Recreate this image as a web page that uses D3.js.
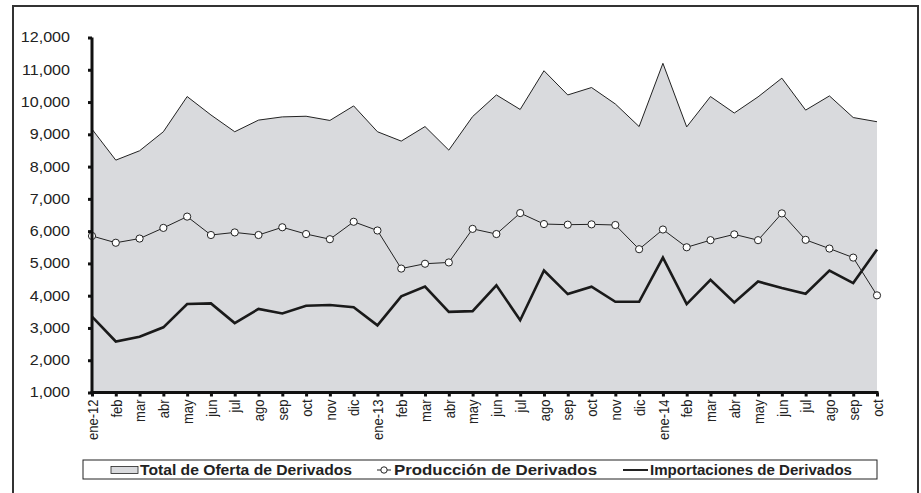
<!DOCTYPE html>
<html><head><meta charset="utf-8">
<script src="https://cdn.jsdelivr.net/npm/d3@7"></script>
<style>body{margin:0;background:#fff;} svg{display:block;font-family:"Liberation Sans",Arial,sans-serif;}</style>
</head><body>
<svg id="c" width="921" height="493"></svg>
<script>
const categories = ["ene-12","feb","mar","abr","may","jun","jul","ago","sep","oct","nov","dic",
  "ene-13","feb","mar","abr","may","jun","jul","ago","sep","oct","nov","dic",
  "ene-14","feb","mar","abr","may","jun","jul","ago","sep","oct"];
const totalOferta = [9160,8200,8490,9080,10170,9600,9080,9440,9540,9560,9430,9880,
  9080,8790,9240,8510,9550,10220,9770,10970,10220,10450,9940,9240,
  11200,9230,10170,9660,10160,10740,9750,10190,9520,9390];
const produccion = [5850,5640,5770,6100,6450,5880,5960,5880,6120,5910,5750,6290,
  6020,4840,4990,5030,6070,5910,6560,6220,6200,6210,6190,5440,
  6050,5500,5720,5900,5720,6550,5730,5460,5180,4010];
const importaciones = [3350,2580,2730,3020,3740,3760,3150,3590,3450,3690,3710,3640,
  3080,3980,4280,3500,3520,4320,3240,4780,4050,4280,3810,3810,
  5180,3740,4490,3790,4440,4240,4060,4780,4390,5430];
const yTicks = [1000,2000,3000,4000,5000,6000,7000,8000,9000,10000,11000,12000];
const legendLabels = ["Total de Oferta de Derivados","Producción de Derivados","Importaciones de Derivados"];

const svg = d3.select("#c");
// outer frame
svg.append("rect").attr("x",13).attr("y",6).attr("width",905).attr("height",500)
  .attr("fill","none").attr("stroke","#333").attr("stroke-width",2);

const x = d3.scalePoint().domain(d3.range(categories.length)).range([92,877]);
const y = d3.scaleLinear().domain([1000,12000]).range([392.5,37.5]);

const g = svg.append("g");
// area
g.append("path").datum(totalOferta)
  .attr("d", d3.area().x((d,i)=>x(i)).y0(y(1000)).y1(d=>y(d)))
  .attr("fill","#d9dadd");
g.append("path").datum(totalOferta)
  .attr("d", d3.line().x((d,i)=>x(i)).y(d=>y(d)))
  .attr("fill","none").attr("stroke","#222").attr("stroke-width",1);
// importaciones
g.append("path").datum(importaciones)
  .attr("d", d3.line().x((d,i)=>x(i)).y(d=>y(d)))
  .attr("fill","none").attr("stroke","#1a1a1a").attr("stroke-width",2.6).attr("stroke-linejoin","miter");
// produccion
g.append("path").datum(produccion)
  .attr("d", d3.line().x((d,i)=>x(i)).y(d=>y(d)))
  .attr("fill","none").attr("stroke","#222").attr("stroke-width",1);
g.selectAll("circle.p").data(produccion).join("circle")
  .attr("cx",(d,i)=>x(i)).attr("cy",d=>y(d)).attr("r",3.6)
  .attr("fill","#fff").attr("stroke","#222").attr("stroke-width",1);

// y axis
const ya = svg.append("g").attr("transform","translate(92,0)")
  .call(d3.axisLeft(y).tickValues(yTicks).tickSize(4).tickPadding(0).tickFormat(d3.format(",")));
ya.select(".domain").attr("stroke","#111").attr("stroke-width",3).attr("d",`M0,${y(12000)}V${y(1000)}`);
ya.selectAll(".tick line").attr("stroke","#111").attr("stroke-width",3);
ya.selectAll(".tick text").attr("font-size",14).attr("fill","#222")
  .attr("font-family","Liberation Sans, Arial, sans-serif")
  .attr("x",0).attr("transform","translate(-22,0) scale(1.15,1)");

// x axis
const xa = svg.append("g").attr("transform",`translate(0,${y(1000)})`)
  .call(d3.axisBottom(x).tickSize(4).tickFormat(i=>categories[i]));
xa.select(".domain").attr("stroke","#111").attr("stroke-width",3).attr("d",`M${x(0)-1.5},0H${x(categories.length-1)+1.5}`);
xa.selectAll(".tick line").attr("stroke","#111").attr("stroke-width",3);
xa.selectAll(".tick text").attr("font-size",13).attr("fill","#222")
  .attr("font-family","Liberation Sans, Arial, sans-serif")
  .attr("transform","scale(1.15,1) rotate(-90)").attr("text-anchor","end")
  .attr("x",-7).attr("y",0).attr("dy","0.35em");

// legend
const lg = svg.append("g");
lg.append("rect").attr("x",83).attr("y",460).attr("width",794).attr("height",19)
  .attr("fill","#fff").attr("stroke","#222").attr("stroke-width",1);
const ly = 470;
lg.append("rect").attr("x",111).attr("y",ly-3.5).attr("width",27).attr("height",7)
  .attr("fill","#d9dadd").attr("stroke","#222").attr("stroke-width",0.8);
lg.append("text").attr("x",140).attr("y",ly).attr("dy","0.36em").attr("textLength",212).text(legendLabels[0]);
lg.append("line").attr("x1",377).attr("x2",391).attr("y1",ly).attr("y2",ly).attr("stroke","#222");
lg.append("circle").attr("cx",384).attr("cy",ly).attr("r",3.2).attr("fill","#fff").attr("stroke","#222");
lg.append("text").attr("x",394).attr("y",ly).attr("dy","0.36em").attr("textLength",203).text(legendLabels[1]);
lg.append("line").attr("x1",623).attr("x2",648).attr("y1",ly).attr("y2",ly).attr("stroke","#222").attr("stroke-width",2);
lg.append("text").attr("x",650).attr("y",ly).attr("dy","0.36em").attr("textLength",202).text(legendLabels[2]);
lg.selectAll("text").attr("font-size",14).attr("font-weight","bold").attr("fill","#222")
  .attr("lengthAdjust","spacingAndGlyphs");
</script>
</body></html>
